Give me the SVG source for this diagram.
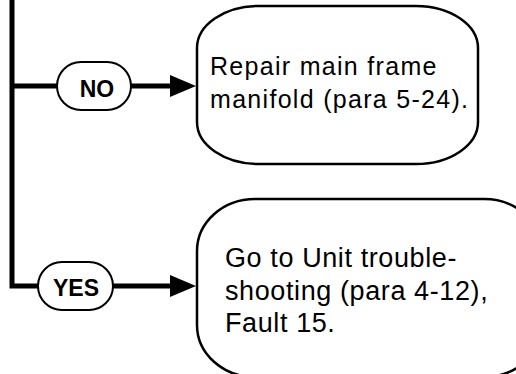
<svg xmlns="http://www.w3.org/2000/svg" width="516" height="374" viewBox="0 0 516 374">
<style>
.box{fill:#fff;stroke:#000;stroke-width:2.5}
.pill{fill:#fff;stroke:#000;stroke-width:2}
.wire{fill:none;stroke:#000;stroke-width:5;stroke-linejoin:miter;stroke-linecap:butt}
.head{fill:#000}
.t{font-family:"Liberation Sans",Arial,sans-serif;fill:#000}
.lbl{font-family:"Liberation Sans",Arial,sans-serif;font-weight:bold;font-size:23px;fill:#000;text-anchor:middle}
</style>
<g id="connectors">
<path class="wire" d="M12,0 V286 H38"/>
<path class="wire" d="M12,86 H57"/>
<path class="wire" d="M131,86 H172"/>
<polygon class="head" points="170,75 196,86 170,97"/>
<path class="wire" d="M113,286 H172"/>
<polygon class="head" points="170,275 196,286 170,297"/>
</g>
<g id="no">
<rect class="pill" x="57" y="62" width="74" height="48" rx="24" ry="24"/>
<text class="lbl" x="97" y="97">NO</text>
</g>
<g id="yes">
<rect class="pill" x="38" y="262" width="75" height="48" rx="24" ry="24"/>
<text class="lbl" x="76" y="296">YES</text>
</g>
<g id="repair">
<rect class="box" x="197" y="6" width="281" height="158" rx="62" ry="42"/>
<text class="t" font-size="25" letter-spacing="1.3"><tspan x="210" y="75">Repair main frame</tspan><tspan x="210" y="108">manifold (para 5-24).</tspan></text>
</g>
<g id="goto">
<rect class="box" x="197" y="199" width="345" height="178" rx="58" ry="52"/>
<text class="t" font-size="27" letter-spacing="0.6"><tspan x="225" y="267">Go to Unit trouble-</tspan><tspan x="225" y="299.5">shooting (para 4-12),</tspan><tspan x="225" y="332">Fault 15.</tspan></text>
</g>
</svg>
